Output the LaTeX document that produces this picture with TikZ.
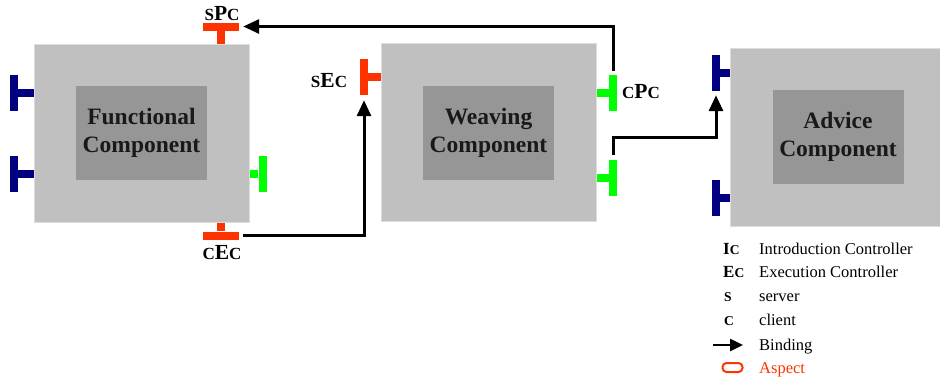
\documentclass[tikz,border=0pt]{standalone}
\usepackage{fontspec}
\setmainfont{Liberation Serif}
\usetikzlibrary{arrows.meta,positioning,calc}
\definecolor{boxgray}{HTML}{C0C0C0}
\definecolor{innergray}{HTML}{969696}
\definecolor{boxedge}{HTML}{DCDCDC}
\definecolor{portred}{HTML}{FF3300}
\definecolor{portgreen}{HTML}{00FF00}
\definecolor{portblue}{HTML}{000080}
\newcommand{\smc}[1]{{\fontsize{17}{18}\selectfont #1}}
\newcommand{\lsmc}[1]{{\fontsize{13.5}{14}\selectfont #1}}

\tikzset{
  outerbox/.style={fill=boxgray, draw=boxedge, line width=1pt, minimum width=215pt, minimum height=178pt, inner sep=0pt},
  innerbox/.style={fill=innergray, minimum width=131pt, minimum height=94pt, inner sep=0pt, align=center, font=\fontsize{23.5}{28}\selectfont\bfseries, text=black!90},
  vbar/.style={fill=#1, minimum width=8pt, minimum height=36pt, inner sep=0pt},
  hbar/.style={fill=#1, minimum width=36pt, minimum height=8pt, inner sep=0pt},
  stub/.style={line width=8pt, draw=#1},
  binding/.style={line width=3pt, -{Stealth[length=16pt,width=14pt,inset=0pt]}},
  portlabel/.style={anchor=base, inner sep=0pt, font=\fontsize{21.5}{22}\selectfont\bfseries},
  legkey/.style={anchor=base west, inner sep=0pt, font=\fontsize{17}{18}\selectfont\bfseries},
  legtext/.style={anchor=base west, inner sep=0pt, font=\fontsize{16.5}{17}\selectfont},
}

\begin{document}
\begin{tikzpicture}[x=1pt, y=-1pt]
  \useasboundingbox (0,0) rectangle (940,378);

  % components
  \node[outerbox] (fc) at (141.5,133) {};
  \node[innerbox] (fci) at (141.5,133) {Functional\\Component};
  \node[outerbox] (wc) at (488.5,132.5) {};
  \node[innerbox] (wci) at (488.5,132.5) {Weaving\\Component};
  \node[outerbox] (ac) at (837.5,137) {};
  \node[innerbox] (aci) at (838,137) {Advice\\Component};

  % ports
  \node[vbar=portblue] (fb1) at (13.5,92.5) {};
  \node[vbar=portblue] (fb2) at (13.5,174) {};
  \node[vbar=portgreen] (fg1) at (262.5,174) {};
  \node[hbar=portred] (sPc) at (221,26.5) {};
  \node[hbar=portred] (cEc) at (221,235.5) {};
  \node[vbar=portred] (sEc) at (364,77) {};
  \node[vbar=portgreen] (cPc) at (613,93) {};
  \node[vbar=portgreen] (wg2) at (613,178) {};
  \node[vbar=portblue] (ab1) at (716,73) {};
  \node[vbar=portblue] (ab2) at (716,197.5) {};

  \foreach \p in {fb1,fb2}
    \draw[stub=portblue] (\p.east) -- (\p.east -| fc.west);
  \foreach \p in {ab1,ab2}
    \draw[stub=portblue] (\p.east) -- (\p.east -| ac.west);
  \draw[stub=portgreen] (fg1.west) -- (fg1.west -| fc.east);
  \foreach \p in {cPc,wg2}
    \draw[stub=portgreen] (\p.west) -- (\p.west -| wc.east);
  \draw[stub=portred] (sEc.east) -- (sEc.east -| wc.west);
  \draw[stub=portred] (sPc.south) -- (sPc.south |- fc.north);
  \draw[stub=portred] (cEc.north) -- (cEc.north |- fc.south);

  % port labels
  \node[portlabel] (lsPc) at (222,20) {\smc{S}P\smc{C}};
  \node[portlabel] (lcEc) at (222,259) {\smc{C}E\smc{C}};
  \node[portlabel] (lsEc) at (329,87) {\smc{S}E\smc{C}};
  \node[portlabel] (lcPc) at (641,98) {\smc{C}P\smc{C}};

  % bindings
  \draw[binding, shorten <=4pt, shorten >=4pt] (cPc.north) |- (sPc.east);
  \draw[binding, shorten <=4pt, shorten >=5pt] (cEc.east) -| (sEc.south);
  \draw[binding, shorten >=4pt] ([yshift=5pt]wg2.north) -- ++(0,-17) -| (ab1.south);

  % legend
  \node[legkey] (kIc) at (723,254) {I\lsmc{C}};
  \node[legtext] (tIc) at (759,254) {Introduction Controller};
  \node[legkey] (kEc) at (723,277) {E\lsmc{C}};
  \node[legtext] (tEc) at (759,277) {Execution Controller};
  \node[legkey] (ks) at (724,301) {\lsmc{S}};
  \node[legtext] (ts) at (759,301) {server};
  \node[legkey] (kc) at (724,325) {\lsmc{C}};
  \node[legtext] (tc) at (759,325) {client};
  \coordinate (kb1) at (713,345);
  \coordinate (kb2) at (743,345);
  \draw[line width=2.5pt, -{Stealth[length=13pt,width=12pt,inset=0pt]}] (kb1) -- (kb2);
  \node[legtext] (tb) at (759,350) {Binding};
  \node[draw=portred, line width=2pt, rounded corners=4pt, minimum width=20pt, minimum height=9pt, inner sep=0pt] (kAsp) at (732.5,367.5) {};
  \node[legtext, text=portred] (tAsp) at (759,373) {Aspect};
\end{tikzpicture}
\end{document}
